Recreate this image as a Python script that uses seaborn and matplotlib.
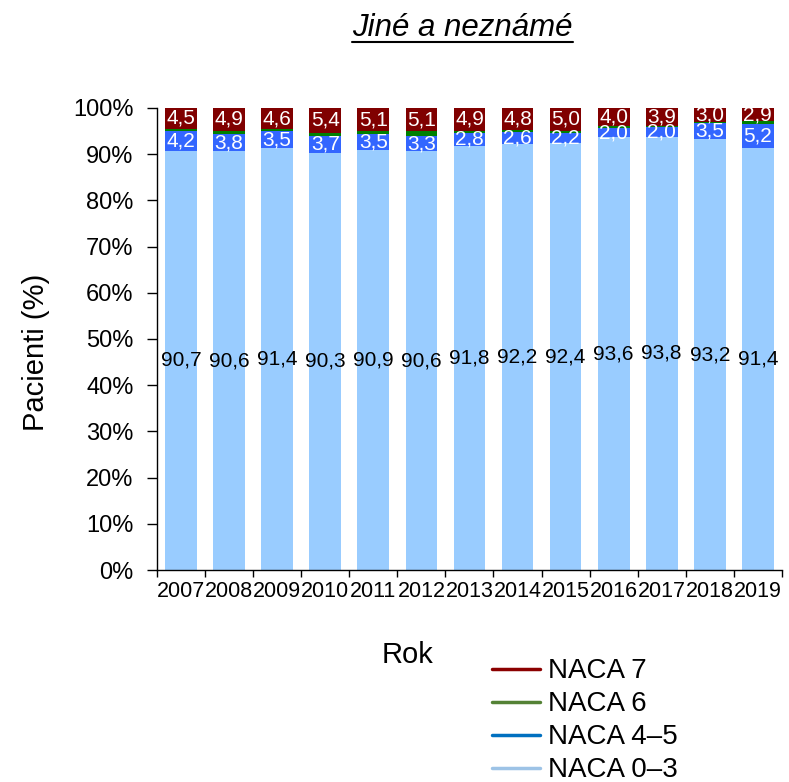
import matplotlib
matplotlib.use("Agg")
import matplotlib.pyplot as plt
from matplotlib.lines import Line2D
import seaborn as sns
import numpy as np
import pandas as pd

years = ["2007", "2008", "2009", "2010", "2011", "2012", "2013",
         "2014", "2015", "2016", "2017", "2018", "2019"]
naca_0_3 = [90.7, 90.6, 91.4, 90.3, 90.9, 90.6, 91.8, 92.2, 92.4, 93.6, 93.8, 93.2, 91.4]
naca_4_5 = [4.2, 3.8, 3.5, 3.7, 3.5, 3.3, 2.8, 2.6, 2.2, 2.0, 2.0, 3.5, 5.2]
naca_7 = [4.5, 4.9, 4.6, 5.4, 5.1, 5.1, 4.9, 4.8, 5.0, 4.0, 3.9, 3.0, 2.9]
naca_6 = [round(100 - a - b - c, 1) for a, b, c in zip(naca_0_3, naca_4_5, naca_7)]

bar_colors = {"0-3": "#99CCFF", "4-5": "#3366FF", "6": "#008000", "7": "#800000"}
legend_colors = {"7": "#8B0000", "6": "#548235", "4-5": "#0070C0", "0-3": "#9DC3E6"}

sns.set_theme(style="white")
plt.rcParams['font.family'] = ['Liberation Sans', 'DejaVu Sans']
plt.rcParams['text.color'] = 'black'
plt.rcParams['xtick.color'] = 'black'
plt.rcParams['ytick.color'] = 'black'

df = pd.DataFrame({"Rok": years, "n03": naca_0_3, "n45": naca_4_5,
                   "n6": naca_6, "n7": naca_7})
df["c1"] = df["n03"]
df["c2"] = df["c1"] + df["n45"]
df["c3"] = df["c2"] + df["n6"]
df["c4"] = df["c3"] + df["n7"]

fig = plt.figure(figsize=(7.89, 7.82), dpi=100)
ax = fig.add_axes([0.199, 0.271, 0.792, 0.591])

w = 0.66
for col, key in [("c4", "7"), ("c3", "6"), ("c2", "4-5"), ("c1", "0-3")]:
    sns.barplot(data=df, x="Rok", y=col, color=bar_colors[key], width=w,
                saturation=1, ax=ax, edgecolor="none", linewidth=0)

fs_lbl = 15
for i in range(len(years)):
    ax.text(i, naca_0_3[i] / 2, f"{naca_0_3[i]:.1f}".replace(".", ","),
            ha="center", va="center", fontsize=fs_lbl, color="black")
    ax.text(i, df["c1"][i] + naca_4_5[i] / 2, f"{naca_4_5[i]:.1f}".replace(".", ","),
            ha="center", va="center", fontsize=fs_lbl, color="white")
    ax.text(i, df["c3"][i] + naca_7[i] / 2, f"{naca_7[i]:.1f}".replace(".", ","),
            ha="center", va="center", fontsize=fs_lbl, color="white")

ax.set_xlim(-0.5, len(years) - 0.5)
ax.set_ylim(0, 100)
ax.set_yticks(np.arange(0, 101, 10))
ax.set_yticklabels([f"{v}%" for v in range(0, 101, 10)], fontsize=17)
ax.set_xticks(range(len(years)))
ax.set_xticklabels(years, fontsize=15.5)
ax.set_xticks(np.arange(-0.5, len(years), 1), minor=True)
ax.tick_params(axis="x", which="major", length=0, pad=8)
ax.tick_params(axis="x", which="minor", length=5, width=1, color="black", direction="out", bottom=True)
ax.tick_params(axis="y", which="major", length=7, width=1, color="black", direction="out", left=True, pad=10)
for s in ["top", "right"]:
    ax.spines[s].set_visible(False)
for s in ["left", "bottom"]:
    ax.spines[s].set_color("black")
    ax.spines[s].set_linewidth(1)

ax.set_xlabel("")
ax.set_ylabel("")
fig.text(0.045, 0.55, "Pacienti (%)", rotation=90, ha="center", va="center", fontsize=21)
fig.text(0.516, 0.162, "Rok", ha="center", va="center", fontsize=21)
title = fig.text(0.586, 0.964, "Jiné a neznámé", ha="center", va="center",
                 fontsize=22.5, style="italic")
# underline
fig.canvas.draw()
bb = title.get_window_extent()
inv = fig.transFigure.inverted()
(x0, y0), (x1, y1) = inv.transform([(bb.x0, bb.y0), (bb.x1, bb.y1)])
fig.add_artist(Line2D([x0, x1], [y0 + 0.002, y0 + 0.002], color="black", lw=1.5,
                      transform=fig.transFigure))

handles = [Line2D([0], [0], color=legend_colors[k], lw=2.5) for k in ["7", "6", "4-5", "0-3"]]
labels = ["NACA 7", "NACA 6", "NACA 4–5", "NACA 0–3"]
fig.legend(handles, labels, loc="upper left", bbox_to_anchor=(0.623, 0.158),
           frameon=False, fontsize=20, handlelength=1.75, handletextpad=0.3,
           labelspacing=0.25, borderaxespad=0, borderpad=0)

fig.savefig("out.png", dpi=100)
